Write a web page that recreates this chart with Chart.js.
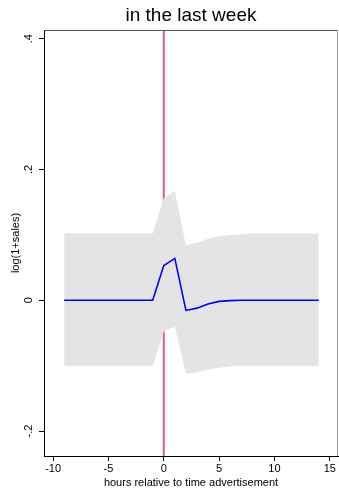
<!DOCTYPE html>
<html>
<head>
<meta charset="utf-8">
<script src="https://cdn.jsdelivr.net/npm/chart.js@4.4.1/dist/chart.umd.min.js"></script>
<style>
  html, body { margin: 0; padding: 0; background: #fff; }
  #wrap { width: 339px; height: 490px; position: relative; }
</style>
</head>
<body>
<div id="wrap"><canvas id="eventChart"></canvas></div>
<script>
// hours around the ad, point estimate and confidence band
const hours = [-9, -8, -7, -6, -5, -4, -3, -2, -1, 0, 1, 2, 3, 4, 5, 6, 7, 8, 9, 10, 11, 12, 13, 14];
const estimate = [0, 0, 0, 0, 0, 0, 0, 0, 0, 0.053, 0.064, -0.0155, -0.012, -0.0057, -0.0017, -0.0005, 0, 0, 0, 0, 0, 0, 0, 0];
const upperCI = [0.102, 0.102, 0.102, 0.102, 0.102, 0.102, 0.102, 0.102, 0.102, 0.156, 0.167, 0.084, 0.088, 0.094, 0.098, 0.100, 0.101, 0.102, 0.102, 0.102, 0.102, 0.102, 0.102, 0.102];
const lowerCI = [-0.100, -0.100, -0.100, -0.100, -0.100, -0.100, -0.100, -0.100, -0.100, -0.048, -0.040, -0.1125, -0.110, -0.106, -0.103, -0.101, -0.100, -0.100, -0.100, -0.100, -0.100, -0.100, -0.100, -0.100];
const xTicks = [-10, -5, 0, 5, 10, 15];
const yTicks = [-0.2, 0, 0.2, 0.4];
const adHour = 0;

const FONT = "'Liberation Sans', Arial, sans-serif";
const yMin = -0.2381, yMax = 0.4133;
const xMin = -10.82, xMax = 15.74;

const pts = (ys) => hours.map((h, i) => ({ x: h, y: ys[i] }));

// stata-ish decimals: .4, -.2
const fmt = (v) => String(v).replace("0.", ".");

// gray top/right edges of the plot region
const frameEdges = {
    id: "frameEdges",
    afterDraw(chart) {
        const { ctx, chartArea: a } = chart;
        ctx.save();
        ctx.lineWidth = 1;
        ctx.strokeStyle = "#555";
        ctx.beginPath();
        ctx.moveTo(a.left, a.top + 0.5);
        ctx.lineTo(a.right, a.top + 0.5);
        ctx.stroke();
        ctx.strokeStyle = "#999";
        ctx.beginPath();
        ctx.moveTo(a.right - 0.5, a.top);
        ctx.lineTo(a.right - 0.5, a.bottom);
        ctx.stroke();
        ctx.restore();
    },
};

const ctx = document.getElementById("eventChart").getContext("2d");

new Chart(ctx, {
    type: "line",
    data: {
        datasets: [
            {
                label: "estimate",
                data: pts(estimate),
                borderColor: "#0000ff",
                borderWidth: 1.6,
                pointRadius: 0,
                fill: false,
                tension: 0,
            },
            {
                label: "upper",
                data: pts(upperCI),
                borderColor: "rgba(0,0,0,0)",
                backgroundColor: "#e4e4e4",
                pointRadius: 0,
                fill: "+1",
                tension: 0,
            },
            {
                label: "lower",
                data: pts(lowerCI),
                borderColor: "rgba(0,0,0,0)",
                pointRadius: 0,
                fill: false,
                tension: 0,
            },
            {
                label: "ad",
                data: [{ x: adHour, y: yMin }, { x: adHour, y: yMax }],
                borderColor: "rgb(214, 96, 128)",
                borderWidth: 2,
                pointRadius: 0,
                fill: false,
            },
        ],
    },
    options: {
        responsive: true,
        maintainAspectRatio: false,
        animation: false,
        events: [],
        layout: { padding: { left: 0, right: 1, top: 0, bottom: 0 } },
        scales: {
            x: {
                type: "linear",
                min: xMin,
                max: xMax,
                afterBuildTicks: (s) => { s.ticks = xTicks.map((v) => ({ value: v })); },
                afterFit: (s) => { s.height = 34; },
                border: { display: true, color: "#000", width: 1 },
                grid: { drawOnChartArea: false, drawTicks: true, tickLength: 5, tickColor: "#000" },
                ticks: { color: "#000", font: { family: FONT, size: 11 }, padding: 1.5, maxRotation: 0 },
                title: {
                    display: true,
                    text: "hours relative to time advertisement",
                    color: "#000",
                    font: { family: FONT, size: 11 },
                    padding: { top: 0, bottom: 0 },
                },
            },
            y: {
                min: yMin,
                max: yMax,
                afterBuildTicks: (s) => { s.ticks = yTicks.map((v) => ({ value: v })); },
                afterFit: (s) => { s.width = 44; },
                border: { display: true, color: "#000", width: 1 },
                grid: { drawOnChartArea: false, drawTicks: true, tickLength: 5, tickColor: "#000" },
                ticks: {
                    color: "#000",
                    font: { family: FONT, size: 11 },
                    minRotation: 90,
                    maxRotation: 90,
                    crossAlign: "center",
                    padding: 4,
                    callback: (v) => fmt(v),
                },
                title: {
                    display: true,
                    text: "log(1+sales)",
                    color: "#000",
                    font: { family: FONT, size: 11 },
                    padding: { top: 9, bottom: 0 },
                },
            },
        },
        plugins: {
            legend: { display: false },
            tooltip: { enabled: false },
            title: {
                display: true,
                text: "in the last week",
                fullSize: false,
                color: "#000",
                font: { family: FONT, size: 19, weight: "normal" },
                padding: { top: 4, bottom: 3.2 },
            },
        },
    },
    plugins: [frameEdges],
});
</script>
</body>
</html>
